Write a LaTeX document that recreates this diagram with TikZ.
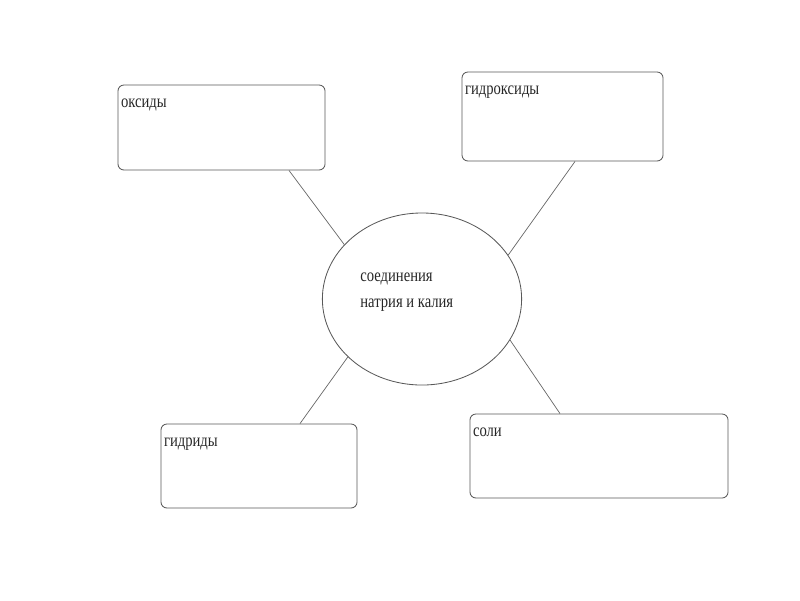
\documentclass[tikz,border=0pt]{standalone}
\usepackage{fontspec}
\setmainfont{Liberation Serif}[FakeStretch=0.8]
\usetikzlibrary{shapes.geometric,calc}

\tikzset{
  box/.style={draw=black!65, line width=0.6pt, rounded corners=0.15cm, inner sep=0pt},
  boxtext/.style={anchor=north west, inner sep=0pt, xshift=0.08cm, yshift=-0.36cm},
  link/.style={draw=black!60, line width=0.5pt}
}

\begin{document}
\begin{tikzpicture}[x=0.025cm, y=-0.025cm, font=\fontsize{13pt}{16pt}\selectfont, text=black!85]
    \useasboundingbox (0,0) rectangle (800,600);
    \node[draw=black!65, line width=0.6pt, ellipse, minimum width=4.98cm, minimum height=4.3cm,
      label={[align=left, xshift=-0.38cm, yshift=0.17cm]center:соединения\\[2pt]натрия и калия}] (center) at (422,299) {};
    \node[box, minimum width=5.175cm, minimum height=2.125cm,
      label={[boxtext]north west:оксиды}] (oxides) at (221.5,127.5) {};
    \node[box, minimum width=5.025cm, minimum height=2.225cm,
      label={[boxtext]north west:гидроксиды}] (hydroxides) at (562.5,116.5) {};
    \node[box, minimum width=4.9cm, minimum height=2.1cm,
      label={[boxtext]north west:гидриды}] (hydrides) at (259,466) {};
    \node[box, minimum width=6.45cm, minimum height=2.1cm,
      label={[boxtext]north west:соли}] (salts) at (599,456) {};
    \draw[link] ($(oxides.south)+(67.5,0)$) -- (center.145);
    \draw[link] ($(hydroxides.south)+(12.5,0)$) -- (center.27);
    \draw[link] ($(hydrides.north)+(41,0)$) -- (center.218);
    \draw[link] ($(salts.north)+(-39,0)$) -- (center.335);
\end{tikzpicture}
\end{document}
